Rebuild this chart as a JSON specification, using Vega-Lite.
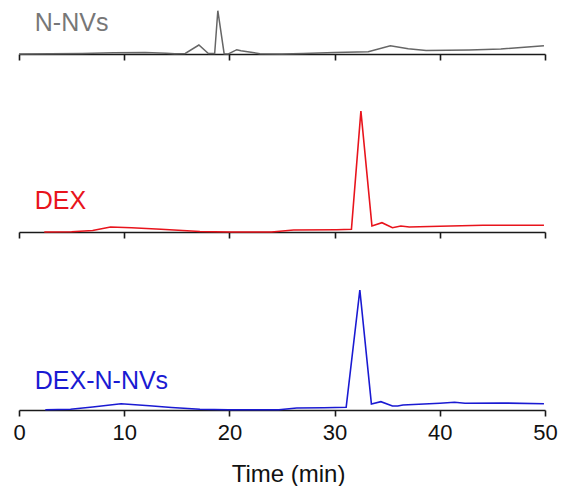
{
  "$schema": "https://vega.github.io/schema/vega-lite/v6.json",
  "padding": {"left": 12, "top": 4, "right": 0, "bottom": 0},
  "background": "white",
  "config": {
    "font": "Liberation Sans",
    "view": {"stroke": null},
    "concat": {"spacing": 11},
    "axisX": {
      "domainColor": "#1a1a1a",
      "tickColor": "#1a1a1a",
      "domainWidth": 1.6,
      "tickWidth": 1.6,
      "tickSize": 6,
      "grid": false,
      "labelColor": "#111111",
      "labelFontSize": 22,
      "labelPadding": 6,
      "titleColor": "#111111",
      "titleFontSize": 24,
      "titleFontWeight": "normal",
      "titlePadding": 19,
      "labelFlush": false
    }
  },
  "data": {
    "values": [
      {"sample": "N-NVs", "t": 0, "v": 0},
      {"sample": "N-NVs", "t": 3, "v": 0.3},
      {"sample": "N-NVs", "t": 6, "v": 0.5},
      {"sample": "N-NVs", "t": 9, "v": 1.2},
      {"sample": "N-NVs", "t": 12, "v": 1.5},
      {"sample": "N-NVs", "t": 14, "v": 0.8},
      {"sample": "N-NVs", "t": 14.8, "v": 0.2},
      {"sample": "N-NVs", "t": 15.8, "v": 0.5},
      {"sample": "N-NVs", "t": 17.1, "v": 9},
      {"sample": "N-NVs", "t": 18.0, "v": 0.5},
      {"sample": "N-NVs", "t": 18.6, "v": 0.5},
      {"sample": "N-NVs", "t": 18.9, "v": 43.3},
      {"sample": "N-NVs", "t": 19.5, "v": 0.3},
      {"sample": "N-NVs", "t": 19.9, "v": 0},
      {"sample": "N-NVs", "t": 20.7, "v": 4.3},
      {"sample": "N-NVs", "t": 21.1, "v": 3.3},
      {"sample": "N-NVs", "t": 22.9, "v": 0.3},
      {"sample": "N-NVs", "t": 25, "v": 0},
      {"sample": "N-NVs", "t": 27, "v": 0.5},
      {"sample": "N-NVs", "t": 30, "v": 1.5},
      {"sample": "N-NVs", "t": 33.2, "v": 2.3},
      {"sample": "N-NVs", "t": 35.3, "v": 8.3},
      {"sample": "N-NVs", "t": 37, "v": 5.3},
      {"sample": "N-NVs", "t": 38.7, "v": 3.5},
      {"sample": "N-NVs", "t": 42.8, "v": 4},
      {"sample": "N-NVs", "t": 45.8, "v": 5},
      {"sample": "N-NVs", "t": 49.9, "v": 8.3},

      {"sample": "DEX", "t": 2.4, "v": 0},
      {"sample": "DEX", "t": 5, "v": 0.3},
      {"sample": "DEX", "t": 7, "v": 1.5},
      {"sample": "DEX", "t": 8.7, "v": 5},
      {"sample": "DEX", "t": 10.7, "v": 4.3},
      {"sample": "DEX", "t": 13.5, "v": 2.7},
      {"sample": "DEX", "t": 17.2, "v": 0.5},
      {"sample": "DEX", "t": 20, "v": 0},
      {"sample": "DEX", "t": 24, "v": 0},
      {"sample": "DEX", "t": 26.1, "v": 2},
      {"sample": "DEX", "t": 30.2, "v": 2.3},
      {"sample": "DEX", "t": 31.6, "v": 2.7},
      {"sample": "DEX", "t": 32.5, "v": 121},
      {"sample": "DEX", "t": 33.55, "v": 6},
      {"sample": "DEX", "t": 34.5, "v": 9.3},
      {"sample": "DEX", "t": 35.5, "v": 4.3},
      {"sample": "DEX", "t": 36.3, "v": 6},
      {"sample": "DEX", "t": 37.1, "v": 5},
      {"sample": "DEX", "t": 40, "v": 5.7},
      {"sample": "DEX", "t": 44.1, "v": 6.7},
      {"sample": "DEX", "t": 49.9, "v": 6.7},

      {"sample": "DEX-N-NVs", "t": 2.5, "v": 0.3},
      {"sample": "DEX-N-NVs", "t": 4.9, "v": 0.7},
      {"sample": "DEX-N-NVs", "t": 7, "v": 3},
      {"sample": "DEX-N-NVs", "t": 9.7, "v": 6.3},
      {"sample": "DEX-N-NVs", "t": 12.4, "v": 4.3},
      {"sample": "DEX-N-NVs", "t": 14.5, "v": 2.5},
      {"sample": "DEX-N-NVs", "t": 17.2, "v": 0.7},
      {"sample": "DEX-N-NVs", "t": 19.9, "v": 0.3},
      {"sample": "DEX-N-NVs", "t": 24.7, "v": 0.3},
      {"sample": "DEX-N-NVs", "t": 26.4, "v": 2},
      {"sample": "DEX-N-NVs", "t": 29, "v": 2.2},
      {"sample": "DEX-N-NVs", "t": 31.1, "v": 2.7},
      {"sample": "DEX-N-NVs", "t": 32.4, "v": 120},
      {"sample": "DEX-N-NVs", "t": 33.5, "v": 6},
      {"sample": "DEX-N-NVs", "t": 34.4, "v": 8.3},
      {"sample": "DEX-N-NVs", "t": 35.5, "v": 4},
      {"sample": "DEX-N-NVs", "t": 36.0, "v": 4},
      {"sample": "DEX-N-NVs", "t": 36.5, "v": 5},
      {"sample": "DEX-N-NVs", "t": 40, "v": 6.7},
      {"sample": "DEX-N-NVs", "t": 41.4, "v": 7.7},
      {"sample": "DEX-N-NVs", "t": 42.4, "v": 6.7},
      {"sample": "DEX-N-NVs", "t": 45.8, "v": 7},
      {"sample": "DEX-N-NVs", "t": 49.9, "v": 6.3}
    ]
  },
  "vconcat": [
    {
      "width": 526,
      "height": 50,
      "layer": [
        {
          "transform": [{"filter": "datum.sample === 'N-NVs'"}],
          "mark": {"type": "line", "color": "#666666", "strokeWidth": 1.5},
          "encoding": {
            "x": {"field": "t", "type": "quantitative", "scale": {"domain": [0, 50], "nice": false}, "axis": {"labels": false, "title": null, "values": [0, 10, 20, 30, 40, 50]}},
            "y": {"field": "v", "type": "quantitative", "scale": {"domain": [0, 50], "nice": false}, "axis": null}
          }
        },
        {
          "data": {"values": [{"label": "N-NVs"}]},
          "mark": {"type": "text", "align": "left", "baseline": "alphabetic", "fontSize": 25, "color": "#777777"},
          "encoding": {
            "x": {"datum": 1.5, "type": "quantitative"},
            "y": {"datum": 23, "type": "quantitative"},
            "text": {"field": "label"}
          }
        }
      ]
    },
    {
      "width": 526,
      "height": 160,
      "layer": [
        {
          "transform": [{"filter": "datum.sample === 'DEX'"}],
          "mark": {"type": "line", "color": "#e8141c", "strokeWidth": 1.6},
          "encoding": {
            "x": {"field": "t", "type": "quantitative", "scale": {"domain": [0, 50], "nice": false}, "axis": {"labels": false, "title": null, "values": [0, 10, 20, 30, 40, 50]}},
            "y": {"field": "v", "type": "quantitative", "scale": {"domain": [0, 160], "nice": false}, "axis": null}
          }
        },
        {
          "data": {"values": [{"label": "DEX"}]},
          "mark": {"type": "text", "align": "left", "baseline": "alphabetic", "fontSize": 25, "color": "#e8141c"},
          "encoding": {
            "x": {"datum": 1.5, "type": "quantitative"},
            "y": {"datum": 23, "type": "quantitative"},
            "text": {"field": "label"}
          }
        }
      ]
    },
    {
      "width": 526,
      "height": 160,
      "layer": [
        {
          "transform": [{"filter": "datum.sample === 'DEX-N-NVs'"}],
          "mark": {"type": "line", "color": "#1a1ad2", "strokeWidth": 1.6},
          "encoding": {
            "x": {"field": "t", "type": "quantitative", "scale": {"domain": [0, 50], "nice": false}, "axis": {"title": "Time (min)", "titleX": 269, "values": [0, 10, 20, 30, 40, 50]}},
            "y": {"field": "v", "type": "quantitative", "scale": {"domain": [0, 160], "nice": false}, "axis": null}
          }
        },
        {
          "data": {"values": [{"label": "DEX-N-NVs"}]},
          "mark": {"type": "text", "align": "left", "baseline": "alphabetic", "fontSize": 25, "color": "#1a1ad2"},
          "encoding": {
            "x": {"datum": 1.5, "type": "quantitative"},
            "y": {"datum": 21, "type": "quantitative"},
            "text": {"field": "label"}
          }
        }
      ]
    }
  ]
}
